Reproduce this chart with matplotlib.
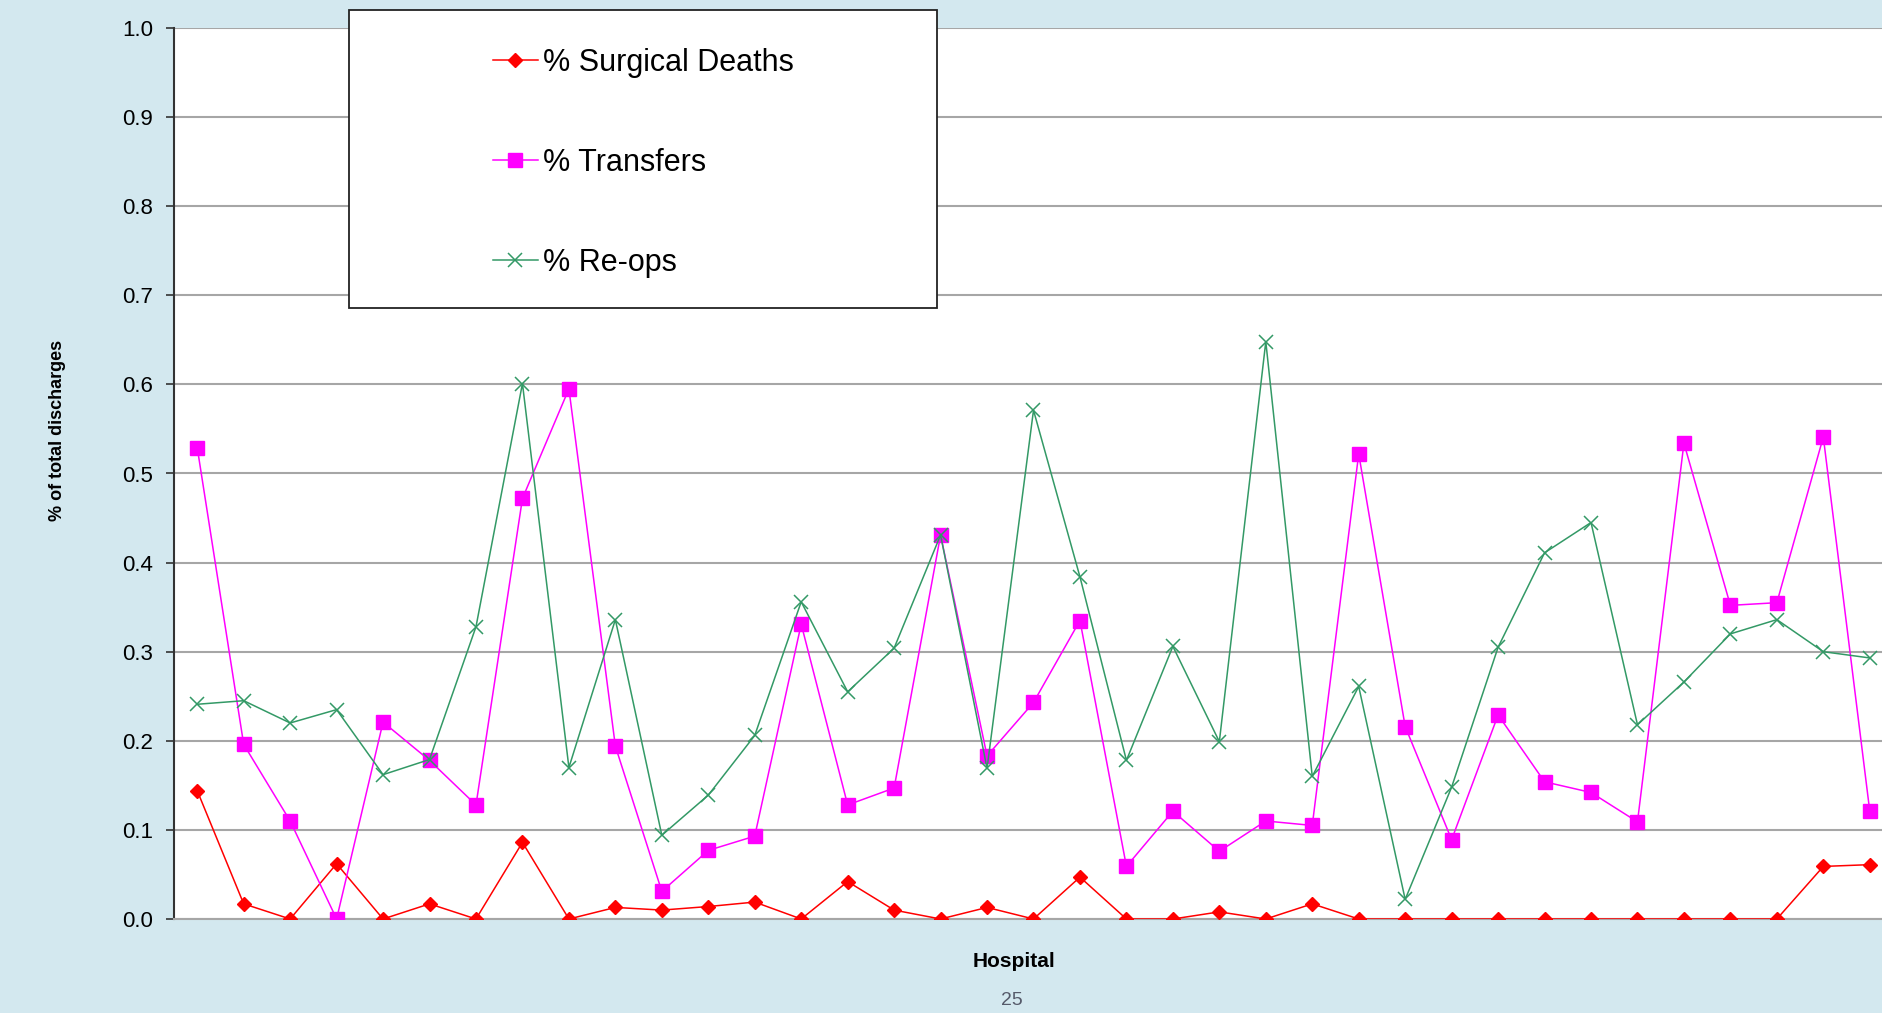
import matplotlib
matplotlib.use("Agg")
import matplotlib.pyplot as plt
from matplotlib.patches import Rectangle
from matplotlib.ticker import MultipleLocator, FormatStrFormatter

# hospitales 1..37
hospitals = list(range(1, 38))

# % muertes quirurgicas
deaths = [0.144, 0.017, 0.0, 0.062, 0.0, 0.017, 0.0, 0.086, 0.0, 0.013,
          0.010, 0.014, 0.019, 0.0, 0.042, 0.010, 0.0, 0.013, 0.0, 0.047,
          0.0, 0.0, 0.008, 0.0, 0.017, 0.0, 0.0, 0.0, 0.0, 0.0,
          0.0, 0.0, 0.0, 0.0, 0.0, 0.059, 0.061]

# % transferencias
transfers = [0.529, 0.196, 0.110, 0.0, 0.221, 0.178, 0.128, 0.472, 0.595, 0.194,
             0.031, 0.077, 0.093, 0.331, 0.128, 0.147, 0.431, 0.183, 0.243, 0.335,
             0.059, 0.121, 0.076, 0.110, 0.105, 0.522, 0.216, 0.089, 0.229, 0.154,
             0.142, 0.109, 0.534, 0.352, 0.355, 0.541, 0.121]

# % re-operaciones
reops = [0.241, 0.245, 0.220, 0.235, 0.162, 0.179, 0.328, 0.601, 0.170, 0.336,
         0.094, 0.139, 0.206, 0.356, 0.255, 0.304, 0.431, 0.169, 0.571, 0.384,
         0.178, 0.306, 0.199, 0.648, 0.160, 0.261, 0.022, 0.148, 0.305, 0.411,
         0.445, 0.218, 0.266, 0.320, 0.336, 0.300, 0.293]

labels = ["% Surgical Deaths", "% Transfers", "% Re-ops"]

plt.rcParams['font.family'] = ['Liberation Sans', 'DejaVu Sans']

W, H = 1882, 1013
fig = plt.figure(figsize=(W / 100, H / 100), dpi=100, facecolor='#d3e8ef')
ax = fig.add_axes([174 / W, 1 - 919 / H, (1893 - 174) / W, (919 - 28) / H])
ax.set_facecolor('white')

l1, = ax.plot(hospitals, deaths, color='#ff0000', marker='D', markersize=7.5,
              linewidth=1.1, zorder=3)
l2, = ax.plot(hospitals, transfers, color='#ff00ff', marker='s', markersize=10,
              linewidth=1.1, zorder=3)
l3, = ax.plot(hospitals, reops, color='#339966', marker='x', markersize=10,
              markeredgewidth=1.1, linewidth=1.1, zorder=3)

ax.set_xlim(0.5, 37.5)
ax.set_ylim(0, 1.0)
ax.yaxis.set_major_locator(MultipleLocator(0.1))
ax.yaxis.set_major_formatter(FormatStrFormatter('%.1f'))
ax.set_xticks([])
ax.grid(axis='y', color='#a6a6a6', linewidth=1.5)
ax.set_axisbelow(True)
for s in ['top', 'right']:
    ax.spines[s].set_visible(False)
ax.spines['left'].set_color('#333333')
ax.spines['left'].set_linewidth(1.5)
ax.spines['bottom'].set_color('#a6a6a6')
ax.spines['bottom'].set_linewidth(1.5)
ax.tick_params(axis='y', labelsize=16, length=6, width=1.2, color='#333333', pad=9)

# caja de la leyenda
box = Rectangle((349 / W, 1 - 308 / H), (937 - 349) / W, (308 - 10) / H,
                transform=fig.transFigure, facecolor='white', edgecolor='#222222',
                linewidth=1.3, zorder=5)
fig.patches.append(box)
leg = fig.legend([l1, l2, l3], labels, loc='upper left',
                 bbox_to_anchor=(465 / W, 1 - 20 / H), frameon=False,
                 fontsize=22, handlelength=1.5, handletextpad=0.15,
                 labelspacing=2.3)
leg.set_zorder(6)

fig.text(57 / W, 1 - 430 / H, "% of total discharges", rotation=90,
         ha='center', va='center', fontsize=13, fontweight='bold')
fig.text(1014 / W, 1 - 961 / H, "Hospital", ha='center', va='center',
         fontsize=15, fontweight='bold')
fig.text(1012 / W, 1 - 1000 / H, "25", ha='center', va='center',
         fontsize=14, color='#555a6a')

fig.savefig("out.png", dpi=100, facecolor=fig.get_facecolor())
